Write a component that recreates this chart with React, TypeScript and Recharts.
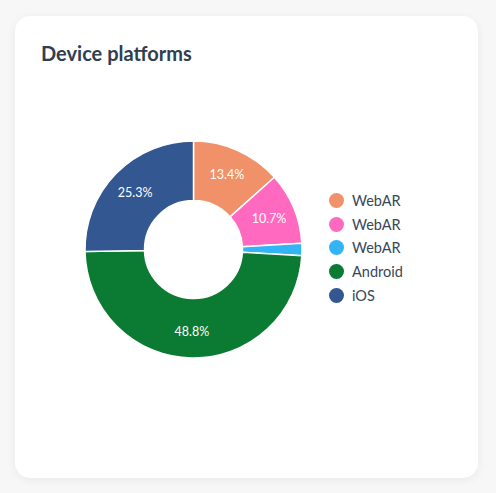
import { Cell, Legend, Pie, PieChart } from "recharts";

const platforms = ["WebAR", "WebAR", "WebAR", "Android", "iOS"];
const shares = [13.4, 10.7, 1.8, 48.8, 25.3];
const colors = ["#F0916A", "#FF69BF", "#33B4F5", "#0B7A33", "#335791"];

const rows = platforms.map((name, i) => ({ name, value: shares[i] }));

const RAD = Math.PI / 180;

function SliceLabel(props: any) {
  const { cx, cy, midAngle, innerRadius, outerRadius, value } = props;
  if (value < 5) return null;
  const r = (innerRadius + outerRadius) / 2 + 3;
  const x = cx + r * Math.cos(-midAngle * RAD);
  const y = cy + r * Math.sin(-midAngle * RAD);
  return (
    <text x={x} y={y} fill="#fff" fontSize={12.5} textAnchor="middle" dominantBaseline="central">
      {value.toFixed(1)}%
    </text>
  );
}

function PlatformLegend() {
  return (
    <div>
      {rows.map((r, i) => (
        <div key={i} style={{ display: "flex", alignItems: "center", height: 23.8 }}>
          <span
            style={{
              width: 15,
              height: 15,
              borderRadius: "50%",
              background: colors[i],
              marginRight: 8.5,
              flex: "none",
            }}
          />
          <span style={{ fontSize: 14.5, color: "#36475a" }}>{r.name}</span>
        </div>
      ))}
    </div>
  );
}

export default function App() {
  return (
    <div
      style={{
        position: "fixed",
        left: 0,
        top: 0,
        width: 496,
        height: 493,
        background: "#f7f7f7",
        fontFamily: "Lato, sans-serif",
      }}
    >
      <div
        style={{
          position: "absolute",
          left: 15,
          top: 16,
          width: 463,
          height: 462,
          background: "#fff",
          borderRadius: 15,
          boxShadow: "0 2px 10px rgba(0,0,0,0.06)",
        }}
      >
        <div
          style={{
            position: "absolute",
            left: 26,
            top: 25,
            fontSize: 20,
            fontWeight: 700,
            color: "#2f3e50",
          }}
        >
          Device platforms
        </div>
        <PieChart width={463} height={462} margin={{ top: 0, right: 0, bottom: 0, left: 0 }}>
          <Pie
            data={rows}
            dataKey="value"
            nameKey="name"
            cx={178.5}
            cy={233.5}
            innerRadius={49}
            outerRadius={108.5}
            startAngle={90}
            endAngle={-270}
            stroke="#fff"
            strokeWidth={1.5}
            label={SliceLabel}
            labelLine={false}
            isAnimationActive={false}
          >
            {rows.map((_, i) => (
              <Cell key={i} fill={colors[i]} />
            ))}
          </Pie>
          <Legend
            content={PlatformLegend}
            wrapperStyle={{ left: 313.5, top: 172.5, width: 120, bottom: "auto" }}
          />
        </PieChart>
      </div>
    </div>
  );
}
